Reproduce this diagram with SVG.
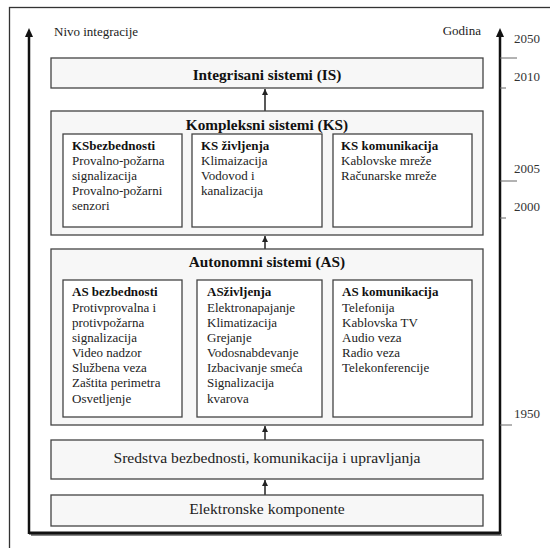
<svg xmlns="http://www.w3.org/2000/svg" width="550" height="548" viewBox="0 0 550 548" font-family="'Liberation Serif', 'DejaVu Serif', serif">
  <style>
    text { font-family: 'Liberation Serif', 'DejaVu Serif', serif; fill: #222; }
    .body { font-size: 13px; }
    .ttl { font-size: 13px; font-weight: bold; fill: #111; }
    .main { font-size: 15.3px; font-weight: bold; fill: #111; text-anchor: middle; }
    .plain { font-size: 15.6px; text-anchor: middle; }
    .year { font-size: 13px; fill: #333; }
    .lvl { fill: #f7f7f7; stroke: #444; stroke-width: 1.3; }
    .sub { fill: #ffffff; stroke: #444; stroke-width: 1.3; }
    .link { stroke: #222; stroke-width: 1.5; fill: none; marker-end: url(#small); }
    .axis { stroke: #111; stroke-width: 2.5; fill: none; marker-end: url(#big); }
    .tick { stroke: #666; stroke-width: 1; }
  </style>
  <defs>
    <marker id="small" viewBox="0 0 6 6" refX="6" refY="3" markerWidth="6" markerHeight="6" markerUnits="userSpaceOnUse" orient="auto">
      <path d="M0,0 L6,3 L0,6 Z" fill="#222"/>
    </marker>
    <marker id="big" viewBox="0 0 9 8" refX="1" refY="4" markerWidth="9" markerHeight="8" markerUnits="userSpaceOnUse" orient="auto">
      <path d="M0,0 L9,4 L0,8 Z" fill="#111"/>
    </marker>
  </defs>

  <!-- page border -->
  <rect x="9.5" y="7.5" width="560" height="560" fill="none" stroke="#333" stroke-width="1.3"/>

  <!-- axes: level of integration (left) and year (right), joined at the bottom -->
  <g id="axes">
    <path d="M31,535 H502" stroke="#888" stroke-width="2" fill="none"/>
    <path d="M29,533 H500" stroke="#111" stroke-width="3" fill="none" stroke-linejoin="round"/>
    <path class="axis" d="M29,534 V36"/>
    <path class="axis" d="M500,534 V36"/>
    <text class="body" x="54" y="36" fill="#333">Nivo integracije</text>
    <text class="body" x="481" y="35" text-anchor="end">Godina</text>
  </g>

  <!-- year scale -->
  <g id="years">
    <line class="tick" x1="500" y1="58" x2="517" y2="58"/>
    <line class="tick" x1="500" y1="88" x2="506" y2="88" stroke="#222"/>
    <line class="tick" x1="500" y1="181" x2="517" y2="181"/>
    <line class="tick" x1="500" y1="218" x2="506" y2="218" stroke="#222"/>
    <line class="tick" x1="500" y1="425" x2="512" y2="425" stroke="#222"/>
    <text class="year" x="514" y="43">2050</text>
    <text class="year" x="514" y="81">2010</text>
    <text class="year" x="514" y="173">2005</text>
    <text class="year" x="514" y="211">2000</text>
    <text class="year" x="514" y="418">1950</text>
  </g>

  <!-- connectors between levels -->
  <g id="connectors">
    <path class="link" d="M265,111 V89"/>
    <path class="link" d="M265,249 V236"/>
    <path class="link" d="M265,440 V426"/>
    <path class="link" d="M265,495 V480"/>
  </g>

  <g id="is">
    <rect class="lvl" x="51" y="58" width="432" height="30"/>
    <text class="main" x="267" y="80">Integrisani sistemi (IS)</text>
  </g>

  <g id="ks">
    <rect class="lvl" x="51" y="111" width="432" height="124"/>
    <text class="main" x="267" y="130">Kompleksni sistemi (KS)</text>
  </g>
  <g id="ks-bezbednosti">
    <rect class="sub" x="63" y="134" width="119" height="93"/>
    <text x="72" y="150" class="ttl">KSbezbednosti</text>
    <text x="72" y="165" class="body">Provalno-požarna</text>
    <text x="72" y="180" class="body">signalizacija</text>
    <text x="72" y="195" class="body">Provalno-požarni</text>
    <text x="72" y="210" class="body">senzori</text>
  </g>
  <g id="ks-zivljenja">
    <rect class="sub" x="192" y="134" width="130" height="93"/>
    <text x="201" y="150" class="ttl">KS življenja</text>
    <text x="201" y="165" class="body">Klimaizacija</text>
    <text x="201" y="180" class="body">Vodovod i</text>
    <text x="201" y="195" class="body">kanalizacija</text>
  </g>
  <g id="ks-komunikacija">
    <rect class="sub" x="333" y="134" width="139" height="93"/>
    <text x="341" y="150" class="ttl">KS komunikacija</text>
    <text x="341" y="165" class="body">Kablovske mreže</text>
    <text x="341" y="180" class="body">Računarske mreže</text>
  </g>

  <g id="as">
    <rect class="lvl" x="51" y="249" width="432" height="176"/>
    <text class="main" x="267" y="267">Autonomni sistemi (AS)</text>
  </g>
  <g id="as-bezbednosti">
    <rect class="sub" x="63" y="280" width="119" height="137"/>
    <text x="72" y="296" class="ttl">AS bezbednosti</text>
    <text x="72" y="312" class="body">Protivprovalna i</text>
    <text x="72" y="327" class="body">protivpožarna</text>
    <text x="72" y="342" class="body">signalizacija</text>
    <text x="72" y="357" class="body">Video nadzor</text>
    <text x="72" y="372" class="body">Službena veza</text>
    <text x="72" y="387" class="body">Zaštita perimetra</text>
    <text x="72" y="403" class="body">Osvetljenje</text>
  </g>
  <g id="as-zivljenja">
    <rect class="sub" x="197" y="280" width="125" height="137"/>
    <text x="207" y="296" class="ttl">ASživljenja</text>
    <text x="207" y="312" class="body">Elektronapajanje</text>
    <text x="207" y="327" class="body">Klimatizacija</text>
    <text x="207" y="342" class="body">Grejanje</text>
    <text x="207" y="357" class="body">Vodosnabdevanje</text>
    <text x="207" y="372" class="body">Izbacivanje smeća</text>
    <text x="207" y="387" class="body">Signalizacija</text>
    <text x="207" y="403" class="body">kvarova</text>
  </g>
  <g id="as-komunikacija">
    <rect class="sub" x="333" y="280" width="139" height="137"/>
    <text x="342" y="296" class="ttl">AS komunikacija</text>
    <text x="342" y="312" class="body">Telefonija</text>
    <text x="342" y="327" class="body">Kablovska TV</text>
    <text x="342" y="342" class="body">Audio veza</text>
    <text x="342" y="357" class="body">Radio veza</text>
    <text x="342" y="372" class="body">Telekonferencije</text>
  </g>

  <g id="sredstva">
    <rect class="lvl" x="51" y="440" width="432" height="39"/>
    <text class="plain" x="267" y="463">Sredstva bezbednosti, komunikacija i upravljanja</text>
  </g>

  <g id="komponente">
    <rect class="lvl" x="51" y="495" width="432" height="31"/>
    <text class="plain" x="267" y="514">Elektronske komponente</text>
  </g>
</svg>
